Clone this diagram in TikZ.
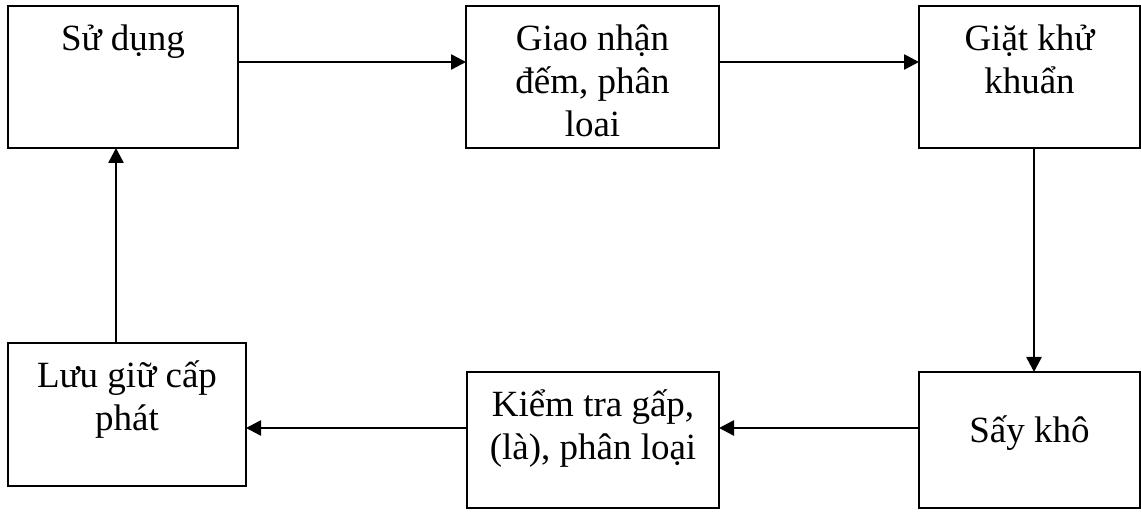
\documentclass[tikz,border=0pt]{standalone}
\usepackage{fontspec}
\setmainfont{Liberation Serif}
\usetikzlibrary{arrows.meta}

% box text: top aligned, first baseline fixed by a strut
\newcommand{\cell}[4][22.5pt]{\parbox[t][#3][t]{#2}{\centering\rule{0pt}{#1}#4}}

\begin{document}
\begin{tikzpicture}[x=0.5pt,y=-0.5pt,
	stepbox/.style={draw,line width=1pt,inner sep=0pt,outer sep=0pt,anchor=north west,
		font=\fontsize{18.5}{21.5}\selectfont},
	flow/.style={line width=1.3pt,-{Triangle[length=7.5pt,width=7.5pt]}}]
			\useasboundingbox (0,0) rectangle (1141,512);
			\node[stepbox] (b1) at (8  ,  6)   {\cell{115pt}{71pt}{Sử dụng}};
			\node[stepbox] (b2) at (466,  6)   {\cell{126.5pt}{71pt}{Giao nhận\\đếm, phân\\loai}};
			\node[stepbox] (b3) at (919,  6)   {\cell{110.5pt}{71pt}{Giặt khử\\khuẩn}};
			\node[stepbox] (b4) at (8  ,  343) {\cell{119pt}{71.5pt}{Lưu giữ cấp\\phát}};
			\node[stepbox] (b5) at (467,  372) {\cell{126pt}{68pt}{Kiểm tra gấp,\\(là), phân loại}};
			\node[stepbox] (b6) at (919,  372) {\cell[35.5pt]{110.5pt}{68pt}{Sấy khô}};
			
			\def\across {b1/b2, b2/b3}  % top row, left to right
			\foreach \u\v in \across
			{	\draw[flow] ([yshift=-28pt]\u.north east) -- ([yshift=-28pt]\v.north west);
			}
			\draw[flow] ([xshift=57.5pt]b3.south west) -- ([xshift=57.5pt]b6.north west);
			\draw[flow] ([yshift=-28pt]b6.north west) -- ([yshift=-28pt]b5.north east);
			\draw[flow] ([yshift=-28pt]b5.north west) coordinate (p) -- (p -| b4.east);
			\draw[flow] ([xshift=54pt]b4.north west) coordinate (q) -- (q |- b1.south);
		\end{tikzpicture}
\end{document}
